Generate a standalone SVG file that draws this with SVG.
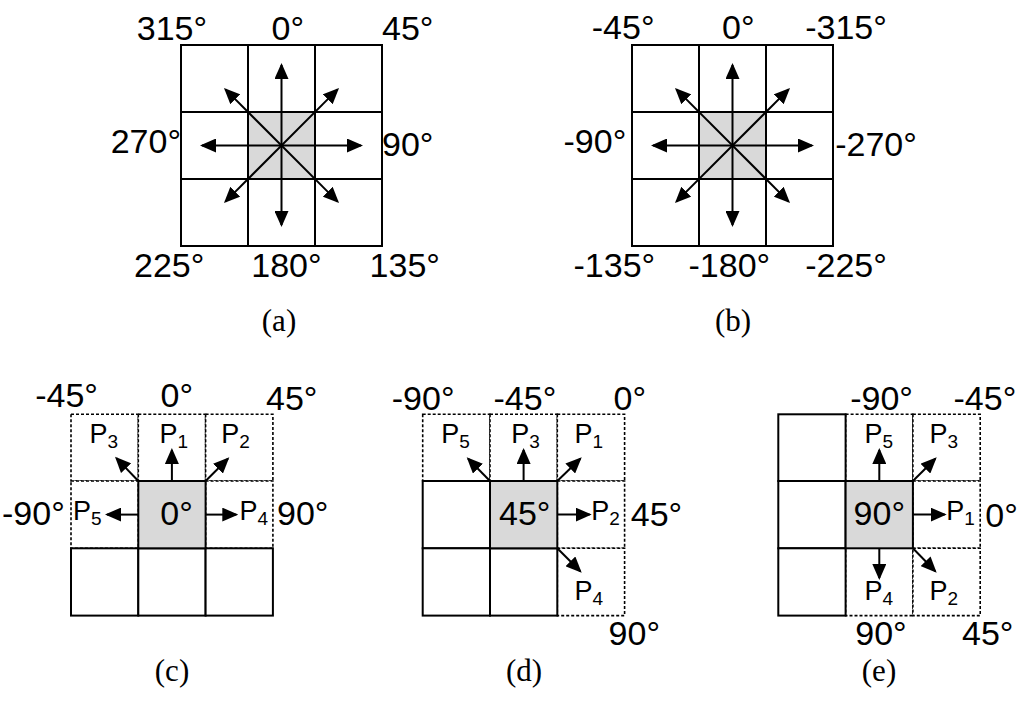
<svg xmlns="http://www.w3.org/2000/svg" width="1020" height="701" viewBox="0 0 1020 701">
<style>
.c{fill:#fff;stroke:#000;stroke-width:2}
.d{fill:#fff;stroke:#000;stroke-width:1.6;stroke-dasharray:3 2}
.g{fill:#d9d9d9;stroke:#000;stroke-width:2}
.t{font-family:"Liberation Sans",Arial,sans-serif;font-size:34px;fill:#000}
.p{font-family:"Liberation Sans",Arial,sans-serif;font-size:27px;fill:#000}
.s{font-size:19px}
.cap{font-family:"Liberation Serif","Times New Roman",serif;font-size:31px;fill:#000;text-anchor:middle}
.a{stroke:#000;stroke-width:2;fill:none;marker-end:url(#ah)}
</style>
<defs>
<marker id="ah" markerUnits="userSpaceOnUse" markerWidth="16" markerHeight="14" refX="14" refY="7" orient="auto">
<path d="M0,0 L16,7 L0,14 z" fill="#000"/>
</marker>
</defs>
<rect width="1020" height="701" fill="#fff"/>

<g id="panel-a">
<rect class="c" x="181" y="45" width="67" height="67"/>
<rect class="c" x="248" y="45" width="67" height="67"/>
<rect class="c" x="315" y="45" width="67" height="67"/>
<rect class="c" x="181" y="112" width="67" height="67"/>
<rect class="c" x="315" y="112" width="67" height="67"/>
<rect class="c" x="181" y="179" width="67" height="67"/>
<rect class="c" x="248" y="179" width="67" height="67"/>
<rect class="c" x="315" y="179" width="67" height="67"/>
<rect class="g" x="248" y="112" width="67" height="67"/>
<text class="t" x="136.8" y="40">315°</text>
<text class="t" x="271.6" y="40">0°</text>
<text class="t" x="382" y="40">45°</text>
<text class="t" x="110.7" y="153">270°</text>
<text class="t" x="382" y="156">90°</text>
<text class="t" x="134" y="277">225°</text>
<text class="t" x="251.3" y="277">180°</text>
<text class="t" x="369.6" y="277">135°</text>
<text class="cap" x="279" y="331">(a)</text>
</g>

<g id="panel-b">
<rect class="c" x="632" y="45" width="67" height="67"/>
<rect class="c" x="699" y="45" width="67" height="67"/>
<rect class="c" x="766" y="45" width="67" height="67"/>
<rect class="c" x="632" y="112" width="67" height="67"/>
<rect class="c" x="766" y="112" width="67" height="67"/>
<rect class="c" x="632" y="179" width="67" height="67"/>
<rect class="c" x="699" y="179" width="67" height="67"/>
<rect class="c" x="766" y="179" width="67" height="67"/>
<rect class="g" x="699" y="112" width="67" height="67"/>
<text class="t" x="591.8" y="39">-45°</text>
<text class="t" x="722" y="39">0°</text>
<text class="t" x="805.2" y="39">-315°</text>
<text class="t" x="563.5" y="153">-90°</text>
<text class="t" x="835.2" y="156">-270°</text>
<text class="t" x="573.5" y="277">-135°</text>
<text class="t" x="688.5" y="277">-180°</text>
<text class="t" x="805.2" y="277">-225°</text>
<text class="cap" x="733" y="331">(b)</text>
</g>

<g id="panel-c">
<rect class="d" x="71" y="414.3" width="67.3" height="66.7"/>
<rect class="d" x="138.3" y="414.3" width="67.3" height="66.7"/>
<rect class="d" x="205.6" y="414.3" width="67.3" height="66.7"/>
<rect class="d" x="71" y="481" width="67.3" height="67.3"/>
<rect class="d" x="205.6" y="481" width="67.3" height="67.3"/>
<rect class="c" x="71" y="548.3" width="67.3" height="67.3"/>
<rect class="c" x="138.3" y="548.3" width="67.3" height="67.3"/>
<rect class="c" x="205.6" y="548.3" width="67.3" height="67.3"/>
<rect class="g" x="138.3" y="481" width="67.3" height="67.3"/>
<text class="t" x="35.2" y="407">-45°</text>
<text class="t" x="160.6" y="407">0°</text>
<text class="t" x="266" y="410">45°</text>
<text class="t" x="2" y="525">-90°</text>
<text class="t" x="277" y="525">90°</text>
<text class="t" x="160.3" y="525">0°</text>
<text class="p" x="89.6" y="443">P<tspan class="s" dy="5">3</tspan></text>
<text class="p" x="159.6" y="443">P<tspan class="s" dy="5">1</tspan></text>
<text class="p" x="221.2" y="443">P<tspan class="s" dy="5">2</tspan></text>
<text class="p" x="72.9" y="520">P<tspan class="s" dy="5">5</tspan></text>
<text class="p" x="239.6" y="520">P<tspan class="s" dy="5">4</tspan></text>
<text class="cap" x="172" y="681">(c)</text>
</g>

<g id="panel-d">
<rect class="d" x="422.7" y="414.3" width="67.3" height="66.7"/>
<rect class="d" x="490" y="414.3" width="67.3" height="66.7"/>
<rect class="d" x="557.3" y="414.3" width="67.3" height="66.7"/>
<rect class="d" x="557.3" y="481" width="67.3" height="67.3"/>
<rect class="d" x="557.3" y="548.3" width="67.3" height="67.3"/>
<rect class="c" x="422.7" y="481" width="67.3" height="67.3"/>
<rect class="c" x="422.7" y="548.3" width="67.3" height="67.3"/>
<rect class="c" x="490" y="548.3" width="67.3" height="67.3"/>
<rect class="g" x="490" y="481" width="67.3" height="67.3"/>
<text class="t" x="391.8" y="410">-90°</text>
<text class="t" x="493.5" y="410">-45°</text>
<text class="t" x="613.6" y="410">0°</text>
<text class="t" x="499" y="525">45°</text>
<text class="t" x="630.8" y="526">45°</text>
<text class="t" x="608.6" y="645">90°</text>
<text class="p" x="441.2" y="443">P<tspan class="s" dy="5">5</tspan></text>
<text class="p" x="511.2" y="443">P<tspan class="s" dy="5">3</tspan></text>
<text class="p" x="574.6" y="443">P<tspan class="s" dy="5">1</tspan></text>
<text class="p" x="591.2" y="520">P<tspan class="s" dy="5">2</tspan></text>
<text class="p" x="574.6" y="600">P<tspan class="s" dy="5">4</tspan></text>
<text class="cap" x="524" y="681">(d)</text>
</g>

<g id="panel-e">
<rect class="d" x="845.6" y="414.3" width="67.3" height="66.7"/>
<rect class="d" x="912.9" y="414.3" width="67.3" height="66.7"/>
<rect class="d" x="912.9" y="481" width="67.3" height="67.3"/>
<rect class="d" x="845.6" y="548.3" width="67.3" height="67.3"/>
<rect class="d" x="912.9" y="548.3" width="67.3" height="67.3"/>
<rect class="c" x="778.3" y="414.3" width="67.3" height="66.7"/>
<rect class="c" x="778.3" y="481" width="67.3" height="67.3"/>
<rect class="c" x="778.3" y="548.3" width="67.3" height="67.3"/>
<rect class="g" x="845.6" y="481" width="67.3" height="67.3"/>
<text class="t" x="850.2" y="410">-90°</text>
<text class="t" x="953.5" y="410">-45°</text>
<text class="t" x="853.6" y="525">90°</text>
<text class="t" x="985.3" y="527">0°</text>
<text class="t" x="855.3" y="645">90°</text>
<text class="t" x="962" y="645">45°</text>
<text class="p" x="864.6" y="443">P<tspan class="s" dy="5">5</tspan></text>
<text class="p" x="929.6" y="443">P<tspan class="s" dy="5">3</tspan></text>
<text class="p" x="946.2" y="520">P<tspan class="s" dy="5">1</tspan></text>
<text class="p" x="864.6" y="600">P<tspan class="s" dy="5">4</tspan></text>
<text class="p" x="929.6" y="600">P<tspan class="s" dy="5">2</tspan></text>
<text class="cap" x="879" y="681">(e)</text>
</g>

<g id="connectors">
<line class="a" x1="281.5" y1="145.5" x2="281.5" y2="65"/>
<line class="a" x1="281.5" y1="145.5" x2="281.5" y2="225"/>
<line class="a" x1="281.5" y1="145.5" x2="202" y2="145.5"/>
<line class="a" x1="281.5" y1="145.5" x2="361" y2="145.5"/>
<line class="a" x1="281.5" y1="145.5" x2="225.4" y2="89.4"/>
<line class="a" x1="281.5" y1="145.5" x2="337.6" y2="89.4"/>
<line class="a" x1="281.5" y1="145.5" x2="225.4" y2="201.6"/>
<line class="a" x1="281.5" y1="145.5" x2="337.6" y2="201.6"/>

<line class="a" x1="732.5" y1="145.5" x2="732.5" y2="65"/>
<line class="a" x1="732.5" y1="145.5" x2="732.5" y2="225"/>
<line class="a" x1="732.5" y1="145.5" x2="653" y2="145.5"/>
<line class="a" x1="732.5" y1="145.5" x2="812" y2="145.5"/>
<line class="a" x1="732.5" y1="145.5" x2="676.4" y2="89.4"/>
<line class="a" x1="732.5" y1="145.5" x2="788.6" y2="89.4"/>
<line class="a" x1="732.5" y1="145.5" x2="676.4" y2="201.6"/>
<line class="a" x1="732.5" y1="145.5" x2="788.6" y2="201.6"/>

<line class="a" x1="171.9" y1="481" x2="171.9" y2="450"/>
<line class="a" x1="138.3" y1="481" x2="116.4" y2="458.1"/>
<line class="a" x1="205.6" y1="481" x2="227.9" y2="458.7"/>
<line class="a" x1="138.3" y1="514.6" x2="107" y2="514.6"/>
<line class="a" x1="205.6" y1="514.6" x2="236.3" y2="514.6"/>

<line class="a" x1="490" y1="481" x2="468.1" y2="458.7"/>
<line class="a" x1="523.6" y1="481" x2="523.6" y2="450"/>
<line class="a" x1="557.3" y1="481" x2="580.3" y2="458.7"/>
<line class="a" x1="557.3" y1="514.6" x2="589.7" y2="514.6"/>
<line class="a" x1="557.3" y1="548.3" x2="580.3" y2="571.3"/>

<line class="a" x1="879.3" y1="481" x2="879.3" y2="450"/>
<line class="a" x1="912.9" y1="481" x2="935.3" y2="458.7"/>
<line class="a" x1="912.9" y1="514.6" x2="944.7" y2="514.6"/>
<line class="a" x1="879.3" y1="548.3" x2="879.3" y2="578"/>
<line class="a" x1="912.9" y1="548.3" x2="935.3" y2="571.3"/>
</g>
</svg>
